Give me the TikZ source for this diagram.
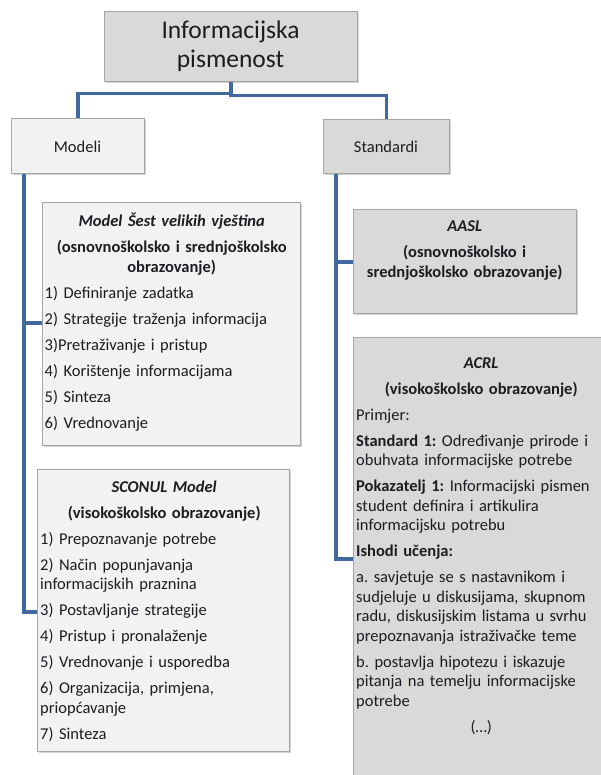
\documentclass[tikz,border=0pt]{standalone}
\usepackage{fontspec}
\setmainfont{Carlito}
\usetikzlibrary{shadows,calc}
\definecolor{connc}{RGB}{66,105,158}
\definecolor{boxdark}{RGB}{217,217,217}
\definecolor{boxlight}{RGB}{242,242,242}
\definecolor{edgec}{RGB}{165,165,165}
\definecolor{txt}{RGB}{28,28,34}
\frenchspacing
\newcommand\psk{\setlength{\parskip}{6.5pt}\hyphenpenalty=10000\frenchspacing\relax}
\tikzset{
  box/.style={draw=edgec, line width=0.7pt, inner sep=0pt, anchor=north west,
    drop shadow={shadow xshift=1.6pt, shadow yshift=-1.8pt, opacity=0.35}},
  darkbox/.style={box, fill=boxdark},
  lightbox/.style={box, fill=boxlight},
  conn/.style={draw=connc, line width=3.6pt},
  body/.style={font=\fontsize{16.5}{19.5}\selectfont, text=txt, inner sep=0pt, align=left},
  titletxt/.style={font=\fontsize{25.5}{29}\selectfont, text=txt, inner sep=0pt, align=center},
}
\begin{document}
\begin{tikzpicture}[x=1pt,y=-1pt]
\useasboundingbox (0,0) rectangle (601,775);

% boxes
\node[darkbox, minimum width=253pt, minimum height=70pt] (top) at (104,11) {};
\node[lightbox, minimum width=133pt, minimum height=55pt] (modeli) at (11,118) {};
\node[darkbox, minimum width=126pt, minimum height=54pt] (standardi) at (323,119) {};
\node[lightbox, minimum width=258pt, minimum height=243pt] (sest) at (42,202) {};
\node[lightbox, minimum width=252pt, minimum height=282pt] (sconul) at (37,469) {};
\node[darkbox, minimum width=223pt, minimum height=104pt] (aasl) at (353,209) {};
\begin{scope}
  \clip (0,0) rectangle (601,775);
  \node[darkbox, minimum width=256pt, minimum height=460pt] (acrl) at (353,337) {};
\end{scope}

% texts
\node[titletxt, text width=253pt, anchor=base] (toptxt) at (230.5,39) {Informacijska\\pismenost};
\node[body, anchor=base] (modelitxt) at (77.5,153) {Modeli};
\node[body, anchor=base] (standarditxt) at (386,153) {Standardi};

\node[body, text width=254pt, anchor=base west] (sesttxt) at (44.5,227) {\psk
{\centering\bfseries\itshape Model Šest velikih vještina\par}
{\centering\bfseries (osnovnoškolsko i srednjoškolsko\\obrazovanje)\par}
1) Definiranje zadatka\par
2) Strategije traženja informacija\par
3)Pretraživanje i pristup\par
4) Korištenje informacijama\par
5) Sinteza\par
6) Vrednovanje};

\node[body, text width=248pt, anchor=base west] (sconultxt) at (40,492) {\psk
{\centering\bfseries\itshape SCONUL Model\par}
{\centering\bfseries (visokoškolsko obrazovanje)\par}
1) Prepoznavanje potrebe\par
2) Način popunjavanja\\informacijskih praznina\par
3) Postavljanje strategije\par
4) Pristup i pronalaženje\par
5) Vrednovanje i usporedba\par
6) Organizacija, primjena,\\priopćavanje\par
7) Sinteza};

\node[body, text width=219pt, anchor=base west] (aasltxt) at (355,232) {\psk
{\centering\bfseries\itshape AASL\par}
{\centering\bfseries (osnovnoškolsko i\\srednjoškolsko obrazovanje)\par}};

\node[body, text width=250pt, anchor=base west] (acrltxt) at (356,368) {\psk
{\centering\bfseries\itshape ACRL\par}
{\centering\bfseries (visokoškolsko obrazovanje)\par}
Primjer:\par
\textbf{Standard 1:} Određivanje prirode i\\obuhvata informacijske potrebe\par
\textbf{Pokazatelj 1:} Informacijski pismen\\student definira i artikulira\\informacijsku potrebu\par
\textbf{Ishodi učenja:}\par
a. savjetuje se s nastavnikom i\\sudjeluje u diskusijama, skupnom\\radu, diskusijskim listama u svrhu\\prepoznavanja istraživačke teme\par
b. postavlja hipotezu i iskazuje\\pitanja na temelju informacijske\\potrebe\par
{\centering (…)\par}};

% connectors
\coordinate (mroot) at ($(modeli.south west)+(13,0)$);
\coordinate (sroot) at ($(standardi.south west)+(13,0)$);
\coordinate (s2) at ($(sest.north west)+(0,121)$);
\coordinate (c3) at ($(sconul.north west)+(0,143)$);
\coordinate (a1) at ($(aasl.north west)+(0,53)$);
\coordinate (r1) at ($(acrl.north west)+(0,222)$);

\draw[conn] (top.south) -- ++(0,12) -| (modeli.north);
\draw[conn] (top.south) -- ++(0,14) -| (standardi.north);
\draw[conn] (mroot) |- (s2);
\draw[conn] (mroot) |- (c3);
\draw[conn] (sroot) |- (a1);
\draw[conn] (sroot) |- (r1);
\end{tikzpicture}
\end{document}
